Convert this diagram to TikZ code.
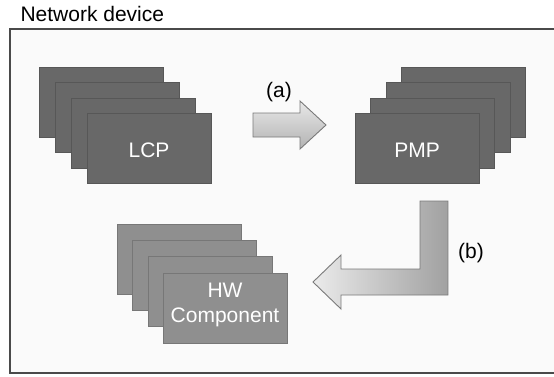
\documentclass[tikz,border=0pt]{standalone}
\usepackage{fontspec}
\setmainfont{Liberation Sans}
\definecolor{darkcard}{HTML}{686868}
\definecolor{darkedge}{HTML}{575757}
\definecolor{lightcard}{HTML}{8F8F8F}
\definecolor{lightedge}{HTML}{777777}
\definecolor{frameline}{HTML}{4A4A4A}
\definecolor{framefill}{HTML}{FAFAFA}
\definecolor{arrowedge}{HTML}{7A7A7A}
\begin{document}
\begin{tikzpicture}[x=1pt,y=-1pt,
  txt/.style={font=\fontsize{21}{25}\selectfont, inner sep=0pt, outer sep=0pt},
  card/.style={txt, rectangle, minimum width=124pt, minimum height=70pt,
    anchor=north west, line width=0.8pt, text=white, align=center},
  lcpcard/.style={card, draw=darkedge, fill=darkcard, text height=19pt, text depth=0pt},
  hwcard/.style={card, draw=lightedge, fill=lightcard, text depth=10pt},
  blockarrow/.style={draw=arrowedge, line width=0.9pt, line join=miter}
]
\useasboundingbox (0,0) rectangle (554,376);
\fill[white] (0,0) rectangle (554,376);

% device frame and its title
\draw[frameline, fill=framefill, line width=2.4pt] (10,29) rectangle (558,373);
\node[txt, anchor=base west] (title) at (20.5,21) {Network device};

% LCP stack
\node[lcpcard] (lcp1) at (39,67) {};
\node[lcpcard] (lcp2) at (55,82) {};
\node[lcpcard] (lcp3) at (71,98) {};
\node[lcpcard] (lcp4) at (87,113) {LCP};

% PMP stack
\node[lcpcard] (pmp1) at (401,67) {};
\node[lcpcard] (pmp2) at (386,82) {};
\node[lcpcard] (pmp3) at (370,98) {};
\node[lcpcard] (pmp4) at (355,113) {PMP};

% HW component stack
\node[hwcard] (hw1) at (117,224) {};
\node[hwcard] (hw2) at (132,240) {};
\node[hwcard] (hw3) at (148,256) {};
\node[hwcard] (hw4) at (163,273) {HW\\Component};

% step (a): LCP to PMP
\path[blockarrow, top color=white!91!black, bottom color=white!70!black]
  (253,113) -- (300,113) -- (300,101) -- (326,125) -- (300,149)
  -- (300,137) -- (253,137) -- cycle;
\node[txt] (la) at (279,92) {(a)};

% step (b): PMP to HW component
\path[blockarrow, left color=white!92!black, right color=white!63!black]
  (448,201) -- (448,295) -- (341,295) -- (341,309) -- (313,282)
  -- (341,255) -- (341,269) -- (420,269) -- (420,201) -- cycle;
\node[txt] (lb) at (471,253.5) {(b)};
\end{tikzpicture}
\end{document}
